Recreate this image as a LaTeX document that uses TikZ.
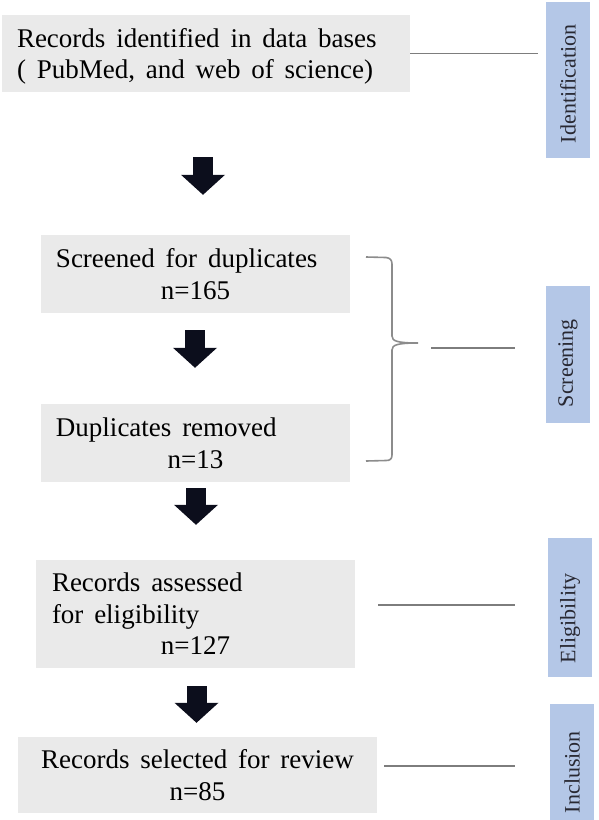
\documentclass[tikz,border=0pt]{standalone}
\usepackage{fontspec}
\setmainfont{Liberation Serif}
\usetikzlibrary{arrows.meta}

\definecolor{boxgray}{RGB}{234,234,234}
\definecolor{sideblue}{RGB}{180,199,231}
\definecolor{rulegray}{RGB}{125,125,125}
\definecolor{bracegray}{RGB}{140,140,140}
\definecolor{arrowink}{RGB}{12,14,28}
\definecolor{sideink}{RGB}{40,40,50}

\newcommand\boxfont{\fontsize{27}{31.5}\selectfont\spaceskip=0.4em\relax}
\newcommand\sidefont{\fontsize{22}{26}\selectfont}

\begin{document}
\begin{tikzpicture}[
        x=1pt, y=-1pt,
        stagebox/.style={fill=boxgray, inner sep=0pt, font=\boxfont, text depth=0pt},
        sidebox/.style={fill=sideblue, rotate=90, inner sep=0pt, minimum height=44pt,
            font=\sidefont, text=sideink},
        sideline/.style={draw=rulegray, line width=1.5pt},
        blockarrow/.style={draw=arrowink, line width=20pt,
            -{Triangle[width=44pt,length=20pt,line width=0pt]}}
    ]
    \useasboundingbox (0,0) rectangle (598,820);

    \node[stagebox, minimum width=408pt, minimum height=77pt, align=left] (records) at (206,53.5)
        {\makebox[378pt][l]{Records identified in data bases}\\( PubMed, and web of science)};
    \node[stagebox, minimum width=309pt, minimum height=78pt, align=left] (screened) at (195.5,274)
        {Screened for duplicates\\\makebox[279pt]{n=165}};
    \node[stagebox, minimum width=309pt, minimum height=78pt, align=left] (removed) at (195.5,443)
        {Duplicates removed\\\makebox[279pt]{n=13}};
    \node[stagebox, minimum width=319pt, minimum height=108pt, align=left] (assessed) at (195.5,614)
        {Records assessed\\for eligibility\\\makebox[287pt]{n=127}};
    \node[stagebox, minimum width=359pt, minimum height=76pt, align=center] (selected) at (197.5,775)
        {Records selected for review\\n=85};

    \node[sidebox, minimum width=156pt] (ident) at (568,80) {\makebox[126pt][l]{Identification}};
    \node[sidebox, minimum width=137pt] (screen) at (568,354.5) {\makebox[105pt][l]{Screening}};
    \node[sidebox, minimum width=139pt] (elig) at (570,607.5) {\makebox[111pt][l]{Eligibility}};
    \node[sidebox, minimum width=116pt] (incl) at (572,762) {\makebox[102pt][l]{Inclusion}};

    \foreach \src/\dst/\col/\gapa/\gapb in {records/screened/203/65/40, screened/removed/195/17/36,
            removed/assessed/196/6/35, assessed/selected/196.5/18/14}
        \draw[blockarrow, shorten <=\gapa pt, shorten >=\gapb pt] (\src.south -| \col,0) -- (\dst.north -| \col,0);

    \coordinate (identend) at (538,53.5);
    \coordinate (bracetip) at (418,343);
    \coordinate (screenfrom) at (431,348);
    \coordinate (screento) at (515,348);
    \coordinate (eligfrom) at (378,605);
    \coordinate (eligto) at (515,605);
    \coordinate (inclfrom) at (384,766);
    \coordinate (inclto) at (515,766);

    \draw[sideline] (records.east) -- (identend);
    \draw[draw=bracegray, line width=1.6pt] (366,257) -- (386,257.5)
        .. controls (390,258) and (392,260) .. (392,264) -- (392,336)
        .. controls (392,341) and (397,343) .. (bracetip)
        .. controls (397,343) and (392,345) .. (392,350) -- (392,455)
        .. controls (392,459) and (390,460.5) .. (386,460.5) -- (366,461);
    \draw[sideline] (screenfrom) -- (screento);
    \draw[sideline] (eligfrom) -- (eligto);
    \draw[sideline] (inclfrom) -- (inclto);
\end{tikzpicture}
\end{document}
